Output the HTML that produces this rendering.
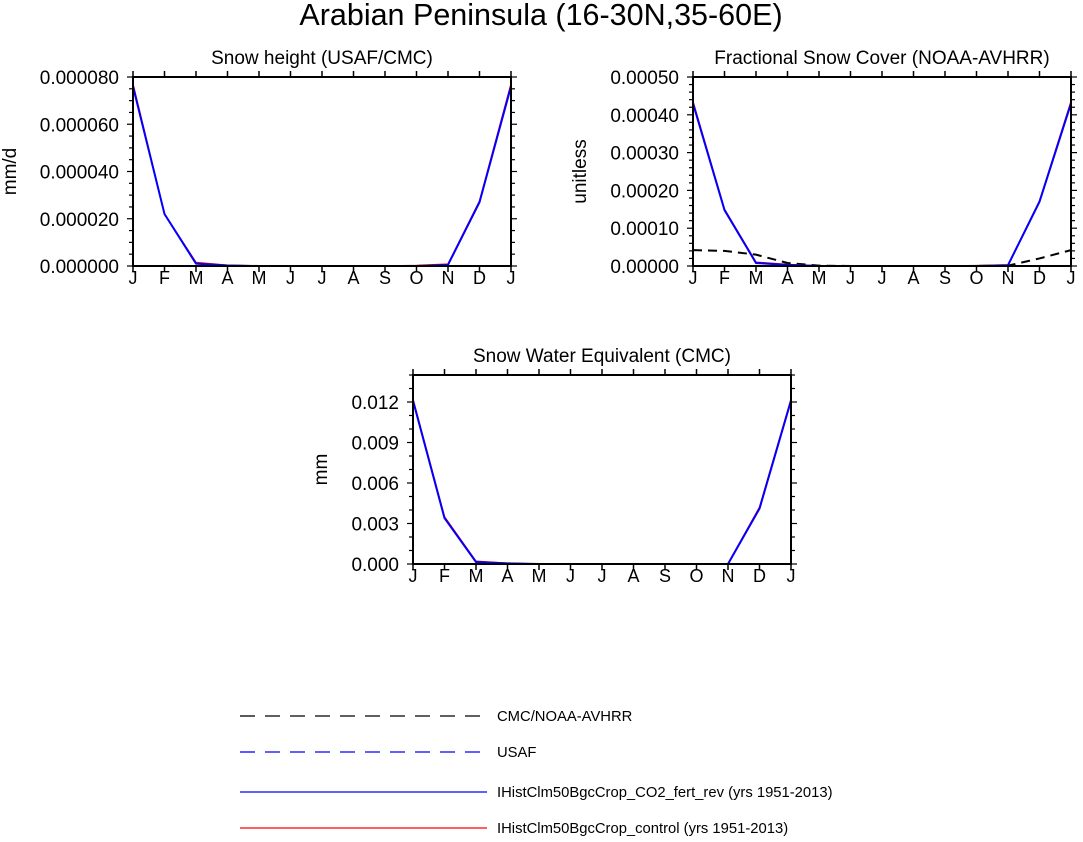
<!DOCTYPE html>
<html><head><meta charset="utf-8"><style>
body{margin:0;background:#fff;width:1083px;height:837px;overflow:hidden}
text{font-family:"Liberation Sans",Helvetica,sans-serif;fill:#000}
</style></head><body>
<svg id="svg" width="1083" height="837" xmlns="http://www.w3.org/2000/svg">
<text x="541" y="25" font-size="30.5" text-anchor="middle">Arabian Peninsula (16-30N,35-60E)</text>
<g id="legend">
<line x1="240" y1="716" x2="487" y2="716" stroke="#000" stroke-width="1.3" stroke-dasharray="15,10"/>
<text x="497" y="721" font-size="14.8">CMC/NOAA-AVHRR</text>
<line x1="240" y1="752" x2="487" y2="752" stroke="#00f" stroke-width="1.3" stroke-dasharray="15,10"/>
<text x="497" y="757" font-size="14.8">USAF</text>
<line x1="240" y1="792" x2="487" y2="792" stroke="#00f" stroke-width="1.3"/>
<text x="497" y="797" font-size="14.8">IHistClm50BgcCrop_CO2_fert_rev (yrs 1951-2013)</text>
<line x1="240" y1="828" x2="487" y2="828" stroke="#f00" stroke-width="1.3"/>
<text x="497" y="833" font-size="14.8">IHistClm50BgcCrop_control (yrs 1951-2013)</text>
</g>
</svg>
<script>
const months=["J","F","M","A","M","J","J","A","S","O","N","D","J"];
const p1Ticks=["0.000000","0.000020","0.000040","0.000060","0.000080"];
const p1Co2=[7.6e-5,2.2e-5,0.1e-5,0.02e-5,0,0,0,0,0,0,0.05e-5,2.7e-5,7.6e-5];
const p1Ctl=[7.7e-5,2.2e-5,0.15e-5,0.03e-5,0,0,0,0,0,0.02e-5,0.08e-5,2.75e-5,7.7e-5];
const p1Obs=[0,0,0,0,0,0,0,0,0,0,0,0,0];
const p2Ticks=["0.00000","0.00010","0.00020","0.00030","0.00040","0.00050"];
const p2Co2=[0.00043,0.000148,0.000008,0.000003,0,0,0,0,0,0,0.000002,0.00017,0.00043];
const p2Ctl=[0.000435,0.00015,0.00001,0.000004,0,0,0,0,0,0.000001,0.000003,0.000172,0.000435];
const p2Obs=[0.000042,0.00004,0.00003,0.000008,0.000001,0,0,0,0,0,0.000001,0.00002,0.000042];
const p3Ticks=["0.000","0.003","0.006","0.009","0.012"];
const p3Co2=[0.0121,0.0034,0.00015,0.00005,0,0,0,0,0,0,0,0.0041,0.0121];
const p3Ctl=[0.0122,0.0035,0.0002,0.00006,0,0,0,0,0,0,0.00002,0.0042,0.0122];
const p3Obs=[0,0,0,0,0,0,0,0,0,0,0,0,0];
const NS="http://www.w3.org/2000/svg",svg=document.getElementById('svg');
function mk(t,a,p){const e=document.createElementNS(NS,t);for(const k in a)e.setAttribute(k,a[k]);(p||svg).appendChild(e);return e;}
function panel(id,L,T,W,H,ymax,tickVals,ticks,minorN,title,ylab,ylx,co2,ctl,obs){
 const g=mk('g',{});
 
 
 const X=i=>L+i*W/12, Y=v=>T+H-v/ymax*H;
 const tt=mk('text',{x:L+W/2,y:T-13,'font-size':19,'text-anchor':'middle'},g);tt.textContent=title;
 
 
 const yl=mk('text',{transform:`translate(${ylx},${T+H/2}) rotate(-90)`,'font-size':19,'text-anchor':'middle'},g);yl.textContent=ylab;
 
 
 for(let i=0;i<13;i++){
  mk('line',{x1:X(i),x2:X(i),y1:T+H,y2:T+H+6,stroke:'#000','stroke-width':1.5},g);
  mk('line',{x1:X(i),x2:X(i),y1:T,y2:T-6,stroke:'#000','stroke-width':1.5},g);
  const t=mk('text',{x:X(i),y:T+H+18,'font-size':18,'text-anchor':'middle'},g);t.textContent=months[i];
  
  
 }
 const step=tickVals[1]-tickVals[0];
 for(let v=0;v<=ymax+1e-12;v+=step/minorN){
  const maj=Math.abs(v/step-Math.round(v/step))<1e-6;const len=maj?6:4;
  mk('line',{x1:L,x2:L-len,y1:Y(v),y2:Y(v),stroke:'#000','stroke-width':1.2},g);
  mk('line',{x1:L+W,x2:L+W+len,y1:Y(v),y2:Y(v),stroke:'#000','stroke-width':1.2},g);
 }
 ticks.forEach((s,i)=>{const t=mk('text',{x:L-14,y:Y(tickVals[i])+7,'font-size':19,'text-anchor':'end'},g);t.textContent=s;
  
  });
 const pts=a=>a.map((v,i)=>X(i)+','+Y(v)).join(' ');
 const o=mk('polyline',{points:pts(obs),fill:'none',stroke:'#000','stroke-width':2,'stroke-dasharray':'9,6'},g);
 
 
 const r=mk('polyline',{points:pts(ctl),fill:'none',stroke:'#f00','stroke-width':1.5},g);
 
 
 const b=mk('polyline',{points:pts(co2),fill:'none',stroke:'#00f','stroke-width':2},g);
 
 
 mk('rect',{x:L,y:T,width:W,height:H,fill:'none',stroke:'#000','stroke-width':2},g);
}
panel('panel-snow-height',133,77,378,189,8e-5,[0,2e-5,4e-5,6e-5,8e-5],p1Ticks,4,'Snow height (USAF/CMC)','mm/d',16,p1Co2,p1Ctl,p1Obs);
panel('panel-fsc',693,77,378,189,0.0005,[0,0.0001,0.0002,0.0003,0.0004,0.0005],p2Ticks,5,'Fractional Snow Cover (NOAA-AVHRR)','unitless',586,p2Co2,p2Ctl,p2Obs);
panel('panel-swe',413,375,378,189,0.014,[0,0.003,0.006,0.009,0.012],p3Ticks,3,'Snow Water Equivalent (CMC)','mm',327,p3Co2,p3Ctl,p3Obs);
</script>
</body></html>
